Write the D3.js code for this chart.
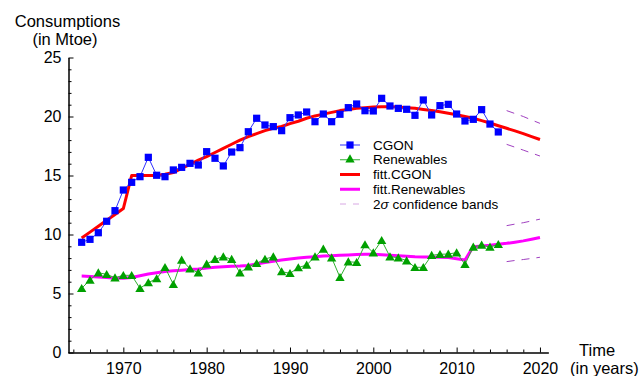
<!DOCTYPE html>
<html>
<head>
<meta charset="utf-8">
<script src="https://cdn.jsdelivr.net/npm/d3@7"></script>
<style>
  html, body { margin: 0; padding: 0; background: #fff; }
  svg { display: block; font-family: "Liberation Sans", Arial, sans-serif; }
</style>
</head>
<body>
<svg id="chart" width="643" height="376"></svg>
<script>
// Observed years
const years = [1965, 1966, 1967, 1968, 1969, 1970, 1971, 1972, 1973, 1974,
  1975, 1976, 1977, 1978, 1979, 1980, 1981, 1982, 1983, 1984,
  1985, 1986, 1987, 1988, 1989, 1990, 1991, 1992, 1993, 1994,
  1995, 1996, 1997, 1998, 1999, 2000, 2001, 2002, 2003, 2004,
  2005, 2006, 2007, 2008, 2009, 2010, 2011, 2012, 2013, 2014, 2015];

// Consumption of coal, gas, oil and nuclear (Mtoe)
const cgon = [9.34, 9.59, 10.15, 11.12, 12.02, 13.77, 14.42, 14.90, 16.54, 15.02,
  14.90, 15.47, 15.69, 16.03, 15.89, 17.02, 16.46, 15.81, 16.99, 17.36,
  18.71, 19.85, 19.28, 19.14, 18.80, 19.90, 20.13, 20.38, 19.56, 20.21,
  19.56, 20.19, 20.75, 21.06, 20.49, 20.47, 21.54, 20.89, 20.69, 20.61,
  20.10, 21.40, 20.13, 20.92, 21.03, 20.21, 19.62, 19.76, 20.58, 19.36, 18.69];

// Consumption of renewables (Mtoe)
const renewables = [5.44, 6.14, 6.76, 6.62, 6.34, 6.54, 6.54, 5.44, 5.92, 6.26,
  7.22, 5.78, 7.84, 7.10, 6.76, 7.50, 7.90, 8.12, 7.90, 6.76,
  7.27, 7.56, 7.92, 8.12, 6.85, 6.71, 7.19, 7.42, 8.12, 8.77,
  8.03, 6.37, 7.69, 7.64, 9.14, 8.46, 9.50, 8.12, 8.03, 7.78,
  7.22, 7.22, 8.24, 8.32, 8.35, 8.46, 7.47, 8.94, 9.11, 8.94, 9.17];

// Fitted model, 1965 to 2020
const fitYears = [1965, 1966, 1967, 1968, 1969, 1970, 1971, 1972, 1973, 1974,
  1975, 1976, 1977, 1978, 1979, 1980, 1981, 1982, 1983, 1984,
  1985, 1986, 1987, 1988, 1989, 1990, 1991, 1992, 1993, 1994,
  1995, 1996, 1997, 1998, 1999, 2000, 2001, 2002, 2003, 2004,
  2005, 2006, 2007, 2008, 2009, 2010, 2011, 2012, 2013, 2014,
  2015, 2016, 2017, 2018, 2019, 2020];

const fitCgon = [9.7, 10.2, 10.7, 11.2, 11.7, 12.2, 15.0, 15.0, 15.0, 15.0,
  15.1, 15.25, 15.6, 15.95, 16.3, 16.6, 16.95, 17.3, 17.65, 18.0,
  18.3, 18.55, 18.8, 19.0, 19.15, 19.4, 19.6, 19.85, 20.05, 20.2,
  20.35, 20.5, 20.6, 20.7, 20.75, 20.8, 20.83, 20.82, 20.8, 20.75,
  20.69, 20.6, 20.5, 20.4, 20.27, 20.15, 20.0, 19.85, 19.65, 19.45,
  19.22, 19.0, 18.78, 18.55, 18.3, 18.05];

const fitRenewables = [6.48, 6.45, 6.4, 6.35, 6.3, 6.3, 6.35, 6.5, 6.65, 6.76,
  6.86, 6.93, 6.98, 7.03, 7.07, 7.15, 7.22, 7.27, 7.3, 7.33,
  7.38, 7.5, 7.62, 7.74, 7.84, 7.93, 8.0, 8.07, 8.12, 8.17,
  8.2, 8.24, 8.27, 8.3, 8.32, 8.32, 8.28, 8.24, 8.2, 8.16,
  8.12, 8.1, 8.1, 8.08, 8.05, 7.95, 7.84, 8.97, 9.03, 9.09,
  9.17, 9.25, 9.35, 9.46, 9.6, 9.75];

// 2-sigma confidence bands of the forecast
const bandYears = [2016, 2017, 2018, 2019, 2020];
const cgonUpper = [20.5, 20.25, 20.0, 19.7, 19.42];
const cgonLower = [17.64, 17.4, 17.15, 16.9, 16.65];
const renUpper = [10.75, 10.88, 11.0, 11.15, 11.3];
const renLower = [7.7, 7.8, 7.88, 7.97, 8.07];

// Axis ticks
const xMajorTicks = [1970, 1980, 1990, 2000, 2010, 2020];
const xMinorTicks = [1964, 1966, 1968, 1972, 1974, 1976, 1978, 1982, 1984, 1986, 1988,
  1992, 1994, 1996, 1998, 2002, 2004, 2006, 2008, 2012, 2014, 2016, 2018];
const yMajorTicks = [0, 5, 10, 15, 20, 25];
const yMinorTicks = [1, 2, 3, 4, 6, 7, 8, 9, 11, 12, 13, 14, 16, 17, 18, 19, 21, 22, 23, 24];

const legendItems = ["CGON", "Renewables", "fitt.CGON", "fitt.Renewables", "confidence"];

const svg = d3.select("#chart");

const x = d3.scaleLinear().domain([1963.36, 2021]).range([68, 548.3]);
const y = d3.scaleLinear().domain([0, 25]).range([352.5, 57.5]);

const blue = "#0000ff", green = "#00a000", red = "#ff0000", magenta = "#ff00ff", purple = "#a040c0";

// ---- axes ----
const yMinor = d3.axisLeft(y).tickValues(yMinorTicks).tickSize(-3).tickSizeOuter(0).tickFormat("");
const yMajor = d3.axisLeft(y).tickValues(yMajorTicks).tickSize(-5).tickSizeOuter(0).tickPadding(7);
const xMinor = d3.axisBottom(x).tickValues(xMinorTicks).tickSize(-3).tickSizeOuter(0).tickFormat("");
const xMajor = d3.axisBottom(x).tickValues(xMajorTicks).tickSize(-5).tickSizeOuter(0).tickPadding(10).tickFormat(d3.format("d"));

function styleAxis(g) {
  g.selectAll("path, line").attr("stroke", "#000").attr("stroke-width", 1);
  g.selectAll("text").attr("font-size", 16).attr("fill", "#000").attr("font-family", "Liberation Sans, Arial, sans-serif");
}

svg.append("g").attr("transform", "translate(68.5,0)").call(yMinor).call(styleAxis);
svg.append("g").attr("transform", "translate(68.5,0)").call(yMajor).call(styleAxis);
svg.append("g").attr("transform", "translate(0,352.5)").call(xMinor).call(styleAxis);
svg.append("g").attr("transform", "translate(0,352.5)").call(xMajor).call(styleAxis);

// axis titles
const title = svg.append("g").attr("font-size", 16.5).attr("fill", "#000");
title.append("text").attr("x", 67.5).attr("y", 27).attr("text-anchor", "middle").text("Consumptions");
title.append("text").attr("x", 65).attr("y", 44.5).attr("text-anchor", "middle").text("(in Mtoe)");
title.append("text").attr("x", 579).attr("y", 356).text("Time");
title.append("text").attr("x", 570).attr("y", 373.5).text("(in years)");

// ---- fitted curves ----
const fitLine = d3.line().x((d, i) => x(fitYears[i])).y(d => y(d));
svg.append("path").datum(fitCgon).attr("d", fitLine)
  .attr("fill", "none").attr("stroke", red).attr("stroke-width", 3).attr("stroke-linejoin", "round");
svg.append("path").datum(fitRenewables).attr("d", fitLine)
  .attr("fill", "none").attr("stroke", magenta).attr("stroke-width", 3).attr("stroke-linejoin", "round");

// ---- confidence bands ----
const bandLine = d3.line().x((d, i) => x(bandYears[i])).y(d => y(d));
[cgonUpper, cgonLower, renUpper, renLower].forEach(band => {
  svg.append("path").datum(band).attr("d", bandLine)
    .attr("fill", "none").attr("stroke", purple).attr("stroke-width", 1)
    .attr("stroke-dasharray", "8,7");
});

// ---- observed series ----
const dataLine = d3.line().x((d, i) => x(years[i])).y(d => y(d));
svg.append("path").datum(cgon).attr("d", dataLine)
  .attr("fill", "none").attr("stroke", "#3030ff").attr("stroke-width", 1);
svg.append("path").datum(renewables).attr("d", dataLine)
  .attr("fill", "none").attr("stroke", "#30b030").attr("stroke-width", 1);

const square = d3.symbol().type(d3.symbolSquare).size(52);
const triangle = d3.symbol().type(d3.symbolTriangle).size(38);

svg.append("g").selectAll("path").data(cgon).join("path")
  .attr("transform", (d, i) => `translate(${x(years[i])},${y(d)})`)
  .attr("d", square).attr("fill", blue);

svg.append("g").selectAll("path").data(renewables).join("path")
  .attr("transform", (d, i) => `translate(${x(years[i])},${y(d) + 1})`)
  .attr("d", triangle).attr("fill", green);

// ---- legend ----
const legend = svg.append("g").attr("font-size", 13.5).attr("fill", "#000");
const rowY = d3.scaleLinear().domain([0, 4]).range([145, 204]);
legendItems.forEach((key, i) => {
  const g = legend.append("g").attr("transform", `translate(0,${rowY(i)})`);
  if (key === "CGON") {
    g.append("line").attr("x1", 340).attr("x2", 360).attr("stroke", "#3030ff").attr("stroke-width", 1);
    g.append("path").attr("transform", "translate(350,0)").attr("d", square).attr("fill", blue);
    g.append("text").attr("x", 373).attr("dy", "0.35em").text("CGON");
  } else if (key === "Renewables") {
    g.append("line").attr("x1", 340).attr("x2", 360).attr("stroke", "#30b030").attr("stroke-width", 1);
    g.append("path").attr("transform", "translate(350,0)").attr("d", triangle).attr("fill", green);
    g.append("text").attr("x", 373).attr("dy", "0.35em").text("Renewables");
  } else if (key === "fitt.CGON") {
    g.append("line").attr("x1", 340).attr("x2", 360).attr("stroke", red).attr("stroke-width", 3);
    g.append("text").attr("x", 373).attr("dy", "0.35em").text("fitt.CGON");
  } else if (key === "fitt.Renewables") {
    g.append("line").attr("x1", 340).attr("x2", 360).attr("stroke", magenta).attr("stroke-width", 3);
    g.append("text").attr("x", 373).attr("dy", "0.35em").text("fitt.Renewables");
  } else {
    g.append("line").attr("x1", 340).attr("x2", 360).attr("stroke", "#d8a8e4").attr("stroke-width", 1)
      .attr("stroke-dasharray", "6,7");
    const t = g.append("text").attr("x", 373).attr("dy", "0.35em");
    t.append("tspan").text("2");
    t.append("tspan").attr("font-style", "italic").text("σ");
    t.append("tspan").text(" confidence bands");
  }
});
</script>
</body>
</html>
